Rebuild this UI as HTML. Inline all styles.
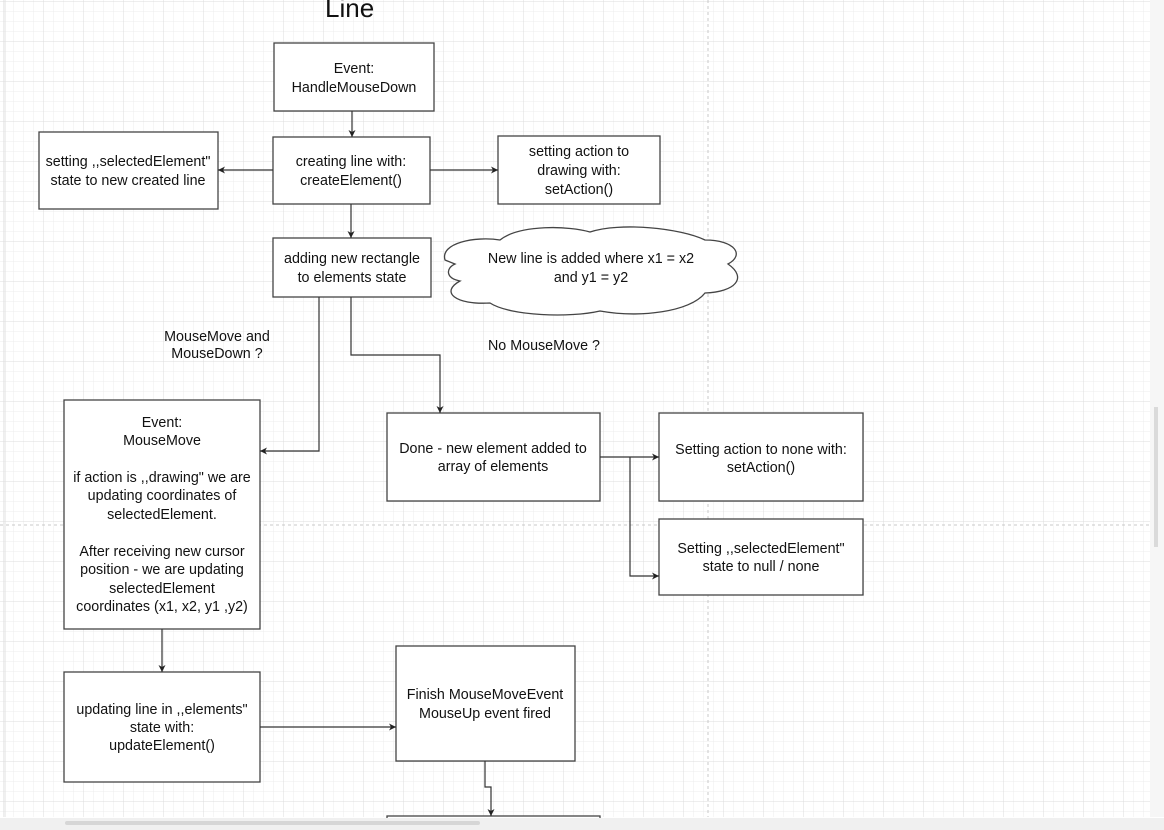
<!DOCTYPE html>
<html><head><meta charset="utf-8"><style>
html,body{margin:0;padding:0;width:1164px;height:830px;overflow:hidden;background:#fff}
svg{display:block}
text{font-family:"Liberation Sans",Arial,sans-serif;font-size:14.3px;fill:#111}
</style></head><body>
<svg width="1164" height="830" viewBox="0 0 1164 830" xmlns="http://www.w3.org/2000/svg">
<defs>
<pattern id="g1" width="10" height="10" patternUnits="userSpaceOnUse" x="4" y="2">
<path d="M10 0V10M0 10H10" stroke="#ececec" stroke-width="1" fill="none"/>
</pattern>
<pattern id="g2" width="40" height="40" patternUnits="userSpaceOnUse" x="4" y="2">
<path d="M40 0V40M0 40H40" stroke="#dcdcdc" stroke-width="1" fill="none"/>
</pattern>
<marker id="a" markerWidth="8" markerHeight="8" refX="7" refY="4" orient="auto" markerUnits="userSpaceOnUse">
<path d="M0,0.5 L7,4 L0,7.5 L2,4 Z" fill="#222"/>
</marker>
</defs>
<rect x="0" y="0" width="1150" height="817" fill="url(#g1)"/>
<rect x="0" y="0" width="1150" height="817" fill="url(#g2)"/>
<line x1="708" y1="0" x2="708" y2="817" stroke="#c8c8c8" stroke-dasharray="3,3"/>
<line x1="0" y1="525" x2="1150" y2="525" stroke="#c8c8c8" stroke-dasharray="3,3"/>
<line x1="5" y1="0" x2="5" y2="817" stroke="#e0e0e0"/>
<rect x="1150" y="0" width="14" height="817" fill="#f6f6f6"/>
<rect x="1154" y="407" width="4" height="140" fill="#dadada"/>

<text x="325" y="17" style="font-size:26px">Line</text>

<g fill="#fff" stroke="#444" stroke-width="1.3">
<rect x="274" y="43" width="160" height="68"/>
<rect x="273" y="137" width="157" height="67"/>
<rect x="39" y="132" width="179" height="77"/>
<rect x="498" y="136" width="162" height="68"/>
<rect x="273" y="238" width="158" height="59"/>
<rect x="64" y="400" width="196" height="229"/>
<rect x="387" y="413" width="213" height="88"/>
<rect x="659" y="413" width="204" height="88"/>
<rect x="659" y="519" width="204" height="76"/>
<rect x="64" y="672" width="196" height="110"/>
<rect x="396" y="646" width="179" height="115"/>
<rect x="387" y="816" width="213" height="20"/>
<path d="M445,260 C440,243 475,236 500,240 C520,224 570,226 590,232 C620,222 680,228 705,240 C735,240 745,255 728,264 C748,278 735,292 705,293 C690,312 640,318 600,311 C570,318 510,316 490,303 C455,305 440,292 460,281 C445,278 446,268 455,264 Z"/>
</g>

<g stroke="#333" stroke-width="1.2" fill="none" marker-end="url(#a)">
<path d="M352,111V137"/>
<path d="M273,170H218"/>
<path d="M430,170H498"/>
<path d="M351,204V238"/>
<path d="M319,297V451H260"/>
<path d="M351,297V355H440V413"/>
<path d="M600,457H659"/>
<path d="M630,457V576H659"/>
<path d="M162,629V672"/>
<path d="M260,727H396"/>
<path d="M485,761V787H491V816"/>
</g>

<g text-anchor="middle">
<text x="354" y="73">Event:</text>
<text x="354" y="92">HandleMouseDown</text>
<text x="351" y="166">creating line with:</text>
<text x="351" y="185">createElement()</text>
<text x="128" y="166">setting ,,selectedElement"</text>
<text x="128" y="185">state to new created line</text>
<text x="579" y="156">setting action to</text>
<text x="579" y="175">drawing with:</text>
<text x="579" y="194">setAction()</text>
<text x="352" y="263">adding new rectangle</text>
<text x="352" y="282">to elements state</text>
<text x="591" y="263">New line is added where x1 = x2</text>
<text x="591" y="282">and y1 = y2</text>
<text x="217" y="341">MouseMove and</text>
<text x="217" y="358">MouseDown ?</text>
<text x="544" y="350">No MouseMove ?</text>
<text x="162" y="427">Event:</text>
<text x="162" y="445">MouseMove</text>
<text x="162" y="482">if action is ,,drawing" we are</text>
<text x="162" y="500">updating coordinates of</text>
<text x="162" y="519">selectedElement.</text>
<text x="162" y="556">After receiving new cursor</text>
<text x="162" y="574">position - we are updating</text>
<text x="162" y="593">selectedElement</text>
<text x="162" y="611">coordinates (x1, x2, y1 ,y2)</text>
<text x="493" y="453">Done - new element added to</text>
<text x="493" y="471">array of elements</text>
<text x="761" y="454">Setting action to none with:</text>
<text x="761" y="472">setAction()</text>
<text x="761" y="553">Setting ,,selectedElement"</text>
<text x="761" y="571">state to null / none</text>
<text x="162" y="714">updating line in ,,elements"</text>
<text x="162" y="732">state with:</text>
<text x="162" y="750">updateElement()</text>
<text x="485" y="699">Finish MouseMoveEvent</text>
<text x="485" y="718">MouseUp event fired</text>
</g>
<rect x="0" y="818" width="1164" height="12" fill="#f0f0f0"/>
<rect x="65" y="821" width="415" height="4" rx="2" fill="#d6d6d6"/>
</svg>
</body></html>
